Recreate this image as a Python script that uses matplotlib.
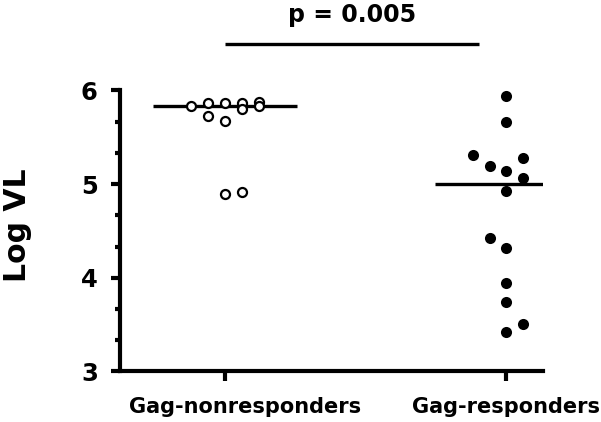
import numpy as np
import matplotlib
matplotlib.use("Agg")
import matplotlib.pyplot as plt
import matplotlib.transforms as mtransforms
from matplotlib.ticker import MultipleLocator

categories = ["Gag-nonresponders", "Gag-responders"]
nonresp_vl = [5.834, 5.863, 5.863, 5.863, 5.88, 5.835, 5.80, 5.73, 5.67, 4.895, 4.92]
nonresp_col = [-2, -1, 0, 1, 2, 2, 1, -1, 0, 0, 1]
resp_vl = [5.94, 5.66, 5.31, 5.28, 5.19, 5.14, 5.07, 4.93, 4.42, 4.32, 3.95, 3.74, 3.51, 3.42]
resp_col = [0, 0, -2, 1, -1, 0, 1, 0, -1, 0, 0, 0, 1, 0]
y_ticks = [3, 4, 5, 6]
p_text = "p = 0.005"
y_label = "Log VL"

plt.rcParams['font.family'] = ['DejaVu Sans']
plt.rcParams['font.weight'] = 'bold'

fig = plt.figure(figsize=(6.01, 4.22), dpi=100)
ax = fig.add_axes([0.1997, 0.1197, 0.7038, 0.6659])

col_w = 0.060
x0 = 0
x1 = 1
ax.plot(x0 + np.array(nonresp_col) * col_w, nonresp_vl, 'o', ms=6.5, mfc='white',
        mec='black', mew=1.6, clip_on=False, zorder=3)
ax.plot(x1 + np.array(resp_col) * col_w, resp_vl, 'o', ms=8, mfc='black',
        mec='black', mew=0, clip_on=False, zorder=3)

half = 0.255
for x, vals in [(x0, nonresp_vl), (x1, resp_vl)]:
    m = np.median(vals)
    ax.plot([x - half, x + half], [m, m], color='black', lw=2.4, solid_capstyle='butt', zorder=2)

ax.set_xlim(-0.374, 1.13)
ax.set_ylim(3, 6)
ax.set_xticks([x0, x1])
ax.set_xticklabels(categories, fontsize=15, fontweight='bold')
ax.set_yticks(y_ticks)
ax.set_yticklabels([str(t) for t in y_ticks], fontsize=17.5, fontweight='bold')
ax.yaxis.set_minor_locator(MultipleLocator(1 / 3))

for s in ['top', 'right']:
    ax.spines[s].set_visible(False)
for s in ['left', 'bottom']:
    ax.spines[s].set_linewidth(3)

ax.tick_params(axis='y', which='major', length=6.5, width=3, pad=9.5, direction='out')
ax.tick_params(axis='y', which='minor', length=3.6, width=3, direction='out')
ax.tick_params(axis='x', which='major', length=7.5, width=3, pad=11, direction='out')

# first category label sits a little to the right of its tick
lbl = ax.get_xticklabels()[0]
lbl.set_transform(lbl.get_transform() + mtransforms.ScaledTranslation(0.20, 0, fig.dpi_scale_trans))

ax.set_ylabel(y_label, fontsize=21.5, fontweight='bold')
ax.yaxis.set_label_coords(-0.207, 0.52)

# significance bar
ax.plot([0.0, 0.904], [6.496, 6.496], color='black', lw=2.4, clip_on=False, solid_capstyle='butt')
ax.text(0.452, 6.806, p_text, ha='center', va='center', fontsize=17, fontweight='bold')

fig.savefig("out.png", dpi=100)
